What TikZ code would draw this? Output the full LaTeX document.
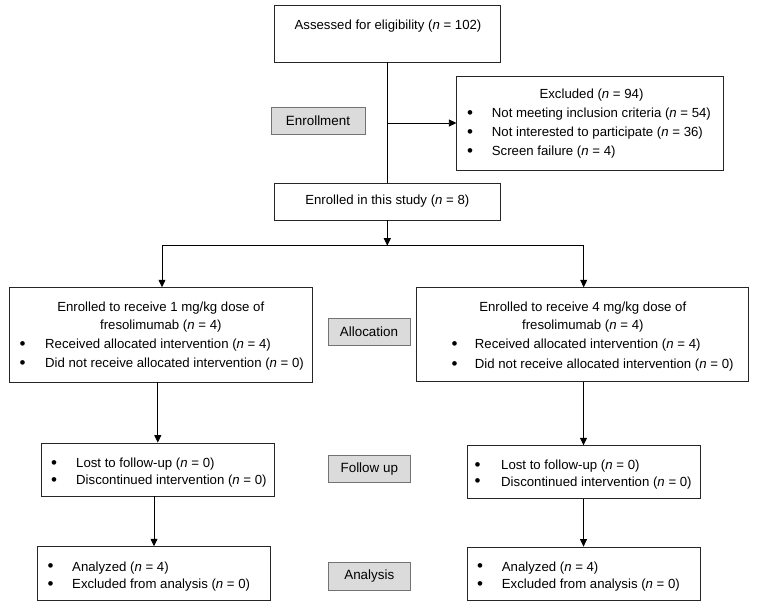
\documentclass[tikz,border=0pt]{standalone}
\usepackage{fontspec}
\setmainfont{Liberation Sans}
\usetikzlibrary{arrows.meta}
\newcommand{\nvar}{\textit{n}}
\newcommand{\bul}{{\fontsize{17}{17}\selectfont\textbullet}}
\begin{document}
\begin{tikzpicture}[x=1pt,y=-1pt,
  box/.style={draw=black!85,line width=0.8pt,rectangle,inner sep=0pt},
  stage/.style={draw=black!55,fill=black!14,line width=0.8pt,rectangle,inner sep=0pt,font=\fontsize{13.4}{16}\selectfont},
  txt/.style={inner sep=0pt,font=\fontsize{13.2}{16}\selectfont},
  arr/.style={-{Triangle[length=7.5pt,width=7pt]},line width=0.8pt},
  ln/.style={line width=0.8pt}]
\useasboundingbox (0,0) rectangle (757,607);

% boxes
\node[box,minimum width=226pt,minimum height=57pt] (assess) at (387,33.5) {};
\node[box,minimum width=267pt,minimum height=94pt] (excl) at (590.3,123) {};
\node[stage,minimum width=94pt,minimum height=27pt] (senrol) at (318,120.5) {Enrollment};
\node[box,txt,minimum width=226pt,minimum height=37pt] (enrol) at (387.3,201.5) {Enrolled in this study (\nvar{} = 8)};
\node[box,minimum width=302.7pt,minimum height=94.3pt] (allocL) at (160.7,334.8) {};
\node[stage,minimum width=82pt,minimum height=27pt] (salloc) at (369,331.5) {Allocation};
\node[box,minimum width=332pt,minimum height=94pt] (allocR) at (582,334.7) {};
\node[box,minimum width=233.7pt,minimum height=53pt] (fuL) at (157.8,469.5) {};
\node[stage,minimum width=81.3pt,minimum height=27pt] (sfu) at (369.3,469.2) {Follow up};
\node[box,minimum width=233pt,minimum height=52.6pt] (fuR) at (583.5,472) {};
\node[box,minimum width=233.4pt,minimum height=53.3pt] (anL) at (154,573.3) {};
\node[stage,minimum width=81.3pt,minimum height=27.3pt] (san) at (369.3,576.3) {Analysis};
\node[box,minimum width=233pt,minimum height=53pt] (anR) at (583.5,573.5) {};

% texts
\node[txt,anchor=base] (t1) at (388,29.5) {Assessed for eligibility (\nvar{} = 102)};

\node[txt,anchor=base] (e0) at (591.5,98.5) {Excluded (\nvar{} = 94)};
\node[txt,anchor=base] (eb1) at (470,118) {\bul};
\node[txt,anchor=base west] (e1) at (491.7,117.5) {Not meeting inclusion criteria (\nvar{} = 54)};
\node[txt,anchor=base] (eb2) at (470,137) {\bul};
\node[txt,anchor=base west] (e2) at (491.7,136.5) {Not interested to participate (\nvar{} = 36)};
\node[txt,anchor=base] (eb3) at (470,156) {\bul};
\node[txt,anchor=base west] (e3) at (491.7,155.5) {Screen failure (\nvar{} = 4)};

\node[txt,anchor=base] (l0) at (160.8,311.5) {Enrolled to receive 1 mg/kg dose of};
\node[txt,anchor=base] (l1) at (160.8,329.8) {fresolimumab (\nvar{} = 4)};
\node[txt,anchor=base] (lb2) at (22.7,349) {\bul};
\node[txt,anchor=base west] (l2) at (45,348.5) {Received allocated intervention (\nvar{} = 4)};
\node[txt,anchor=base] (lb3) at (22.7,368.3) {\bul};
\node[txt,anchor=base west] (l3) at (45,367.8) {Did not receive allocated intervention (\nvar{} = 0)};

\node[txt,anchor=base] (r0) at (582.8,311.5) {Enrolled to receive 4 mg/kg dose of};
\node[txt,anchor=base] (r1) at (582.8,329.8) {fresolimumab (\nvar{} = 4)};
\node[txt,anchor=base] (rb2) at (454.7,349.3) {\bul};
\node[txt,anchor=base west] (r2) at (474.7,348.8) {Received allocated intervention (\nvar{} = 4)};
\node[txt,anchor=base] (rb3) at (454.7,369) {\bul};
\node[txt,anchor=base west] (r3) at (474.7,368.5) {Did not receive allocated intervention (\nvar{} = 0)};

\node[txt,anchor=base] (flb1) at (54,468) {\bul};
\node[txt,anchor=base west] (fl1) at (76,467.5) {Lost to follow-up (\nvar{} = 0)};
\node[txt,anchor=base] (flb2) at (54,485) {\bul};
\node[txt,anchor=base west] (fl2) at (76,484.5) {Discontinued intervention (\nvar{} = 0)};

\node[txt,anchor=base] (frb1) at (477.7,470) {\bul};
\node[txt,anchor=base west] (fr1) at (501,469.5) {Lost to follow-up (\nvar{} = 0)};
\node[txt,anchor=base] (frb2) at (477.7,486.7) {\bul};
\node[txt,anchor=base west] (fr2) at (501,486.2) {Discontinued intervention (\nvar{} = 0)};

\node[txt,anchor=base] (alb1) at (50.7,571.5) {\bul};
\node[txt,anchor=base west] (al1) at (72,571) {Analyzed (\nvar{} = 4)};
\node[txt,anchor=base] (alb2) at (50.7,589) {\bul};
\node[txt,anchor=base west] (al2) at (72,588.5) {Excluded from analysis (\nvar{} = 0)};

\node[txt,anchor=base] (arb1) at (480,571.5) {\bul};
\node[txt,anchor=base west] (ar1) at (501.7,571) {Analyzed (\nvar{} = 4)};
\node[txt,anchor=base] (arb2) at (480,589) {\bul};
\node[txt,anchor=base west] (ar2) at (501.7,588.5) {Excluded from analysis (\nvar{} = 0)};

% connectors
\draw[ln] (assess.south) -- (assess.south |- enrol.north);
\draw[arr] (assess.south |- excl.west) -- (excl.west);
\coordinate (hy) at (0,245.7);
\draw[arr] (enrol.south) -- (enrol.south |- hy);
\coordinate (sl) at (162,245.7);
\coordinate (sr) at (583.7,245.7);
\draw[ln] (sl) -- (sr);
\draw[arr] (sl) -- (sl |- allocL.north);
\draw[arr] (sr) -- (sr |- allocR.north);
\draw[arr] (allocL.south -| fuL.north) -- (fuL.north);
\draw[arr] (allocR.south -| fuR.north) -- (fuR.north);
\draw[arr] (fuL.south -| anL.north) -- (anL.north);
\draw[arr] (fuR.south -| anR.north) -- (anR.north);
\end{tikzpicture}
\end{document}
